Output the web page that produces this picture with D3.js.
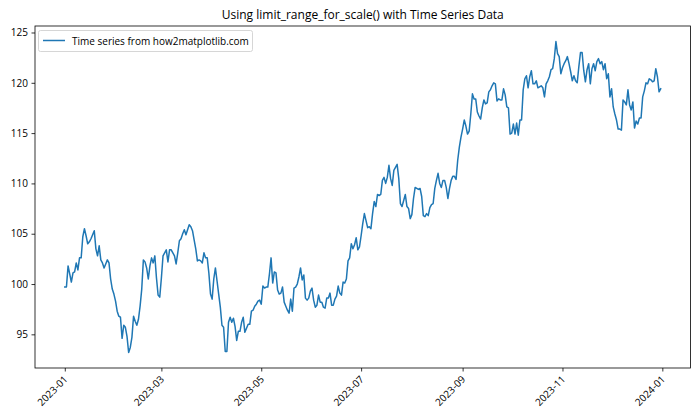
<!DOCTYPE html>
<html>
<head>
<meta charset="utf-8">
<script src="https://cdn.jsdelivr.net/npm/d3@7"></script>
<style>
  body { margin: 0; background: #fff; }
  text { font-family: "Open Sans", "Noto Sans", sans-serif; fill: #000; }
</style>
</head>
<body>
<svg id="chart" width="700" height="420"></svg>
<script>
const title = "Using limit_range_for_scale() with Time Series Data";
const seriesName = "Time series from how2matplotlib.com";
const startDate = "2023-01-01";
const yTicks = [95, 100, 105, 110, 115, 120, 125];
const xTickDates = ["2023-01-01", "2023-03-01", "2023-05-01", "2023-07-01", "2023-09-01", "2023-11-01", "2024-01-01"];
const values = [
  99.7, 99.7, 101.8, 101.0, 100.2, 101.1, 101.2, 102.1, 101.4, 102.6,
  102.6, 104.7, 105.5, 104.8, 104.0, 104.2, 104.5, 104.9, 105.3, 103.5,
  102.8, 103.8, 102.4, 102.1, 101.6, 102.0, 102.4, 102.1, 100.5, 99.5,
  99.0, 98.3, 97.3, 96.8, 96.7, 94.6, 95.9, 95.7, 94.8, 93.2,
  93.7, 94.7, 96.8, 96.3, 95.9, 96.5, 97.8, 99.5, 102.4, 102.2,
  101.6, 100.5, 101.8, 102.6, 102.1, 102.8, 100.6, 98.9, 98.7, 100.6,
  102.8, 103.1, 103.4, 102.2, 103.4, 103.4, 103.1, 102.8, 102.0, 103.1,
  104.3, 104.5, 105.0, 105.4, 104.9, 105.4, 105.9, 105.7, 105.3, 104.4,
  103.5, 102.3, 102.4, 102.3, 102.1, 103.1, 102.6, 102.6, 101.1, 99.0,
  98.5, 100.5, 101.6, 100.3, 99.0, 97.7, 95.9, 95.7, 93.3, 93.3,
  96.2, 96.7, 96.2, 96.6, 95.8, 94.4, 95.3, 95.3, 96.2, 96.7,
  95.2, 95.6, 96.0, 96.0, 97.3, 97.4, 97.8, 98.0, 98.3, 98.4,
  98.0, 99.8, 99.6, 99.7, 99.7, 101.0, 102.6, 100.1, 101.2, 101.1,
  99.4, 99.0, 99.1, 99.7, 98.2, 97.8, 97.4, 97.1, 98.5, 97.3,
  99.6, 99.7, 100.0, 100.7, 101.6, 100.4, 100.9, 98.6, 98.4, 98.6,
  99.3, 99.6, 98.4, 97.7, 97.9, 98.9, 98.2, 98.2, 97.7, 97.6,
  98.6, 98.6, 99.1, 97.9, 97.9, 98.5, 98.8, 99.8, 99.1, 98.9,
  100.2, 100.1, 100.5, 102.3, 102.6, 104.0, 103.5, 103.9, 104.6, 103.4,
  103.7, 104.8, 106.0, 107.0, 106.3, 105.6, 105.7, 105.5, 107.0, 108.2,
  107.7, 108.9, 108.8, 108.9, 110.3, 110.6, 110.0, 110.6, 111.8, 110.5,
  109.8, 111.3, 111.6, 111.9, 110.5, 108.0, 107.7, 108.3, 108.9, 107.7,
  107.5, 106.5, 106.9, 108.5, 109.6, 109.5, 109.4, 109.5, 108.7, 106.8,
  106.7, 107.0, 106.8, 107.6, 107.9, 108.0, 109.5, 110.3, 111.0, 110.0,
  109.6, 110.3, 110.3, 109.6, 108.5, 109.5, 110.3, 110.7, 110.7, 110.4,
  112.3, 113.6, 114.6, 115.4, 116.3, 115.7, 114.9, 115.2, 116.9, 118.9,
  118.4, 118.4, 117.1, 116.7, 116.4, 117.5, 118.3, 117.9, 118.0, 119.1,
  119.3, 119.7, 120.0, 119.9, 118.2, 118.4, 118.3, 118.3, 119.4, 118.8,
  117.6, 117.5, 114.9, 115.0, 115.9, 114.9, 116.0, 114.8, 116.3, 116.3,
  119.3, 120.4, 120.7, 119.5, 120.6, 121.2, 119.9, 119.9, 120.2, 119.5,
  119.6, 119.7, 119.5, 118.6, 119.9, 120.2, 120.6, 121.3, 121.4, 122.4,
  124.1, 122.9, 122.6, 120.9, 121.5, 121.9, 122.2, 122.6, 121.9, 121.1,
  120.2, 120.7, 120.2, 120.0, 121.6, 123.0, 123.0, 121.2, 120.1, 121.3,
  121.9, 119.9, 121.4, 121.9, 121.2, 122.1, 122.4, 121.9, 122.1, 121.3,
  121.9, 120.4, 120.9, 118.6, 119.4, 117.6, 116.9, 116.3, 115.4, 115.4,
  115.3, 118.3, 118.1, 117.8, 119.3, 117.8, 117.3, 118.1, 115.5, 116.2,
  115.9, 116.5, 116.5, 118.6, 119.2, 120.0, 119.9, 120.4, 120.3, 120.1,
  120.2, 121.4, 120.6, 119.1, 119.4
];

const parse = d3.utcParse("%Y-%m-%d");
const t0 = parse(startDate);
const data = values.map((v, i) => ({ date: d3.utcDay.offset(t0, i), value: v }));

const svg = d3.select("#chart");
const margin = { left: 35, right: 9.5, top: 26, bottom: 52 };
const W = 700, H = 420;
const x0 = margin.left, x1 = W - margin.right, yTop = margin.top, yBot = H - margin.bottom;

// matplotlib-like 5% margins
const xExt = d3.extent(data, d => d.date);
const span = xExt[1] - xExt[0];
const yExt = d3.extent(data, d => d.value);
const ySpan = yExt[1] - yExt[0];
const x = d3.scaleUtc()
  .domain([new Date(+xExt[0] - 0.05 * span), new Date(+xExt[1] + 0.05 * span)])
  .range([x0, x1]);
const y = d3.scaleLinear()
  .domain([yExt[0] - 0.05 * ySpan, yExt[1] + 0.05 * ySpan])
  .range([yBot, yTop]);

// line
const line = d3.line().x(d => x(d.date)).y(d => y(d.value));
svg.append("g").attr("clip-path", null)
  .append("path").datum(data)
  .attr("d", line)
  .attr("fill", "none")
  .attr("stroke", "#1f77b4")
  .attr("stroke-width", 1.5)
  .attr("stroke-linejoin", "round")
  .attr("stroke-linecap", "square");

// y axis
const yAxis = svg.append("g").attr("transform", `translate(${x0},0)`)
  .call(d3.axisLeft(y).tickValues(yTicks).tickSize(3.5).tickPadding(3.5).tickFormat(d3.format("d")));
yAxis.select(".domain").remove();
yAxis.selectAll("line").attr("stroke", "#000").attr("stroke-width", 0.8);
yAxis.selectAll("text").attr("font-size", 10).style("font-family", "'Open Sans', sans-serif");

// x axis
const xTicks = xTickDates.map(parse);
const xAxis = svg.append("g").attr("transform", `translate(0,${yBot})`)
  .call(d3.axisBottom(x).tickValues(xTicks).tickSize(3.5).tickFormat(d3.utcFormat("%Y-%m")));
xAxis.select(".domain").remove();
xAxis.selectAll("line").attr("stroke", "#000").attr("stroke-width", 0.8);
xAxis.selectAll("text")
  .attr("font-size", 10)
  .attr("text-anchor", "end")
  .attr("y", 0).attr("dy", 0)
  .attr("transform", "translate(3,12) rotate(-45)");

// frame
svg.append("rect")
  .attr("x", x0).attr("y", yTop)
  .attr("width", x1 - x0).attr("height", yBot - yTop)
  .attr("fill", "none").attr("stroke", "#000").attr("stroke-width", 0.8);

// title
svg.append("text")
  .attr("x", (x0 + x1) / 2).attr("y", yTop - 7)
  .attr("text-anchor", "middle")
  .attr("font-size", 12)
  .text(title);

// legend
const lg = svg.append("g");
lg.append("rect")
  .attr("x", 38.5).attr("y", 30.5).attr("width", 214).attr("height", 21).attr("rx", 2)
  .attr("fill", "#fff").attr("fill-opacity", 0.8)
  .attr("stroke", "#cccccc").attr("stroke-width", 0.8);
lg.append("line")
  .attr("x1", 43).attr("x2", 65).attr("y1", 40.5).attr("y2", 40.5)
  .attr("stroke", "#1f77b4").attr("stroke-width", 1.5);
lg.append("text")
  .attr("x", 72).attr("y", 44.5)
  .attr("font-size", 10)
  .text(seriesName);
</script>
</body>
</html>
